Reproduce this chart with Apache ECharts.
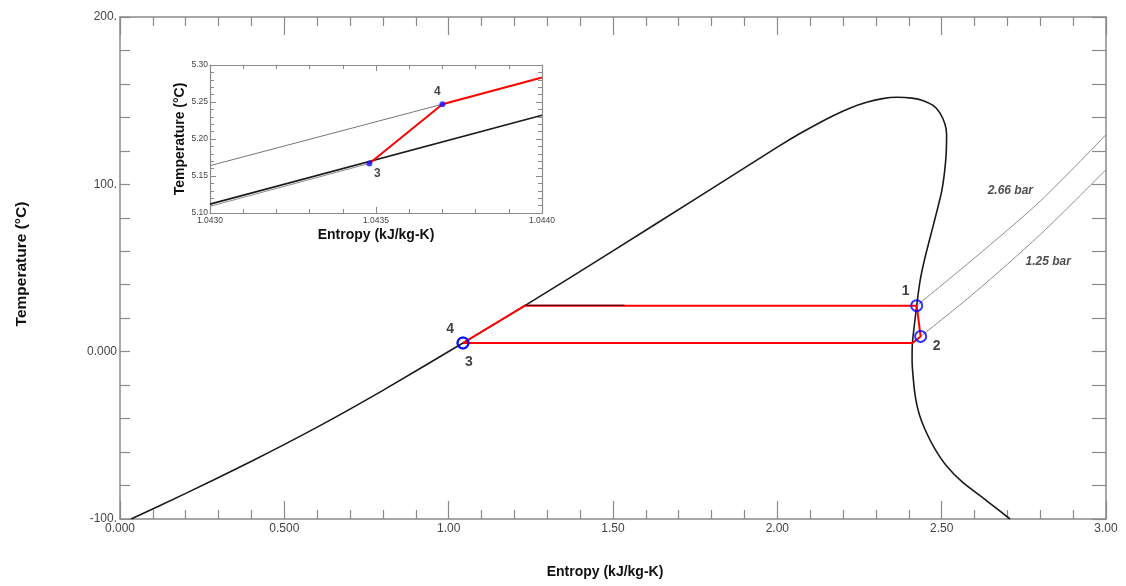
<!DOCTYPE html>
<html><head><meta charset="utf-8">
<script src="https://cdn.jsdelivr.net/npm/echarts@6/dist/echarts.min.js"></script>
<style>html,body{margin:0;padding:0;background:#fff}#c{width:1126px;height:586px}</style>
</head><body><div id="c"></div><script>
// ---- data ----
const xTickLabels = ['0.000','0.500','1.00','1.50','2.00','2.50','3.00'];
const yTickLabels = ['-100.','0.000','100.','200.'];
const insetXTickLabels = ['1.0430','1.0435','1.0440'];
const insetYTickLabels = ['5.10','5.15','5.20','5.25','5.30'];

const domeEntropy = [0.0335,0.2,0.4,0.6,0.8,1.0435,1.232,1.5,1.75,2.0,2.07,2.13,2.17,2.22,2.272,2.32,2.363,2.41,2.444,2.475,2.495,2.51,2.515,2.512,2.500,2.475,2.449,2.434,2.424,2.417,2.411,2.410,2.414,2.421,2.432,2.450,2.478,2.515,2.565,2.635,2.708];
const domeTemp    = [-100,-84.7,-65.5,-45.1,-23.1,5.17,27.5,60.2,91.2,122.2,130.5,137,141,145.5,149,151.2,152,151.5,150,147,142.6,136,129.7,113.7,95.8,75.9,56.0,42.0,27.5,16,5.17,-5,-17,-28.2,-37.5,-46.8,-57.6,-68.3,-78.3,-88.8,-100];

const isoHighEntropy = [2.424,2.6,2.8,3.0];
const isoHighTemp    = [27.5,56,90,129.7];
const isoLowEntropy  = [2.436,2.6,2.8,3.0];
const isoLowTemp     = [9.1,35.2,70,108.8];

const cycleEntropy = [1.0435,1.0437,1.232,2.424,2.436,2.411,1.0435];
const cycleTemp    = [5.17,5.247,27.5,27.5,9.1,5.17,5.17];
const darkSegEntropy = [1.232,1.535];
const darkSegTemp    = [27.75,27.75];

const stateNames   = ['1','2','3','4'];
const stateEntropy = [2.424,2.436,1.0435,1.0437];
const stateTemp    = [27.5,9.1,5.17,5.247];

const pressureNames   = ['2.66 bar','1.25 bar'];
const pressureEntropy = [2.709,2.824];
const pressureTemp    = [96.2,54.0];

const insetSatLiqEntropy = [1.0430,1.0440];
const insetSatLiqTemp    = [5.112,5.232];
const insetIsoHighEntropy = [1.0430,1.04370];
const insetIsoHighTemp    = [5.164,5.247];
const insetIsoLowEntropy  = [1.0430,1.04348];
const insetIsoLowTemp     = [5.109,5.167];
const insetCycleEntropy = [1.04348,1.04370,1.0440];
const insetCycleTemp    = [5.167,5.247,5.283];
const insetStateNames   = ['3','4'];
const insetStateEntropy = [1.04348,1.04370];
const insetStateTemp    = [5.167,5.247];

// ---- helpers ----
const zip = (a,b)=>a.map((v,i)=>[v,b[i]]);
const FONT = 'Liberation Sans, Arial, sans-serif';
const AX = '#8a8a8a';
const stateLabelOffsets = {'1':[-11,-15],'2':[16,10],'3':[6,19],'4':[-13,-14]};
const insetLabelOffsets = {'3':[8,10],'4':[-5,-13]};

function frameAxis(extra){
  return Object.assign({
    type:'value', splitLine:{show:false},
    axisLine:{show:true,onZero:false,lineStyle:{color:AX,width:1.5}},
    axisTick:{show:true,inside:true,length:18,lineStyle:{color:AX,width:1.2}},
    minorTick:{show:true,splitNumber:5,length:9,lineStyle:{color:AX,width:1.2}},
    axisLabel:{show:false}
  }, extra);
}
function insetAxis(extra){
  return Object.assign({
    type:'value', splitLine:{show:false},
    axisLine:{show:true,onZero:false,lineStyle:{color:AX,width:1.2}},
    axisTick:{show:true,inside:true,length:6,lineStyle:{color:AX,width:1}},
    minorTick:{show:true,splitNumber:5,length:4,lineStyle:{color:AX,width:1}},
    axisLabel:{show:false}
  }, extra);
}

const chart = echarts.init(document.getElementById('c'), null, {renderer:'canvas'});
chart.setOption({
  animation:false,
  backgroundColor:'#fff',
  textStyle:{fontFamily:FONT},
  grid:[
    {left:120,top:17,width:986,height:502},
    {left:210,top:65,width:332,height:148,show:true,backgroundColor:'#fff',borderWidth:0,z:5}
  ],
  xAxis:[
    frameAxis({gridIndex:0,position:'bottom',min:0,max:3,interval:0.5,
      name:'Entropy (kJ/kg-K)',nameLocation:'middle',nameGap:46,
      nameTextStyle:{fontSize:14,fontWeight:'bold',color:'#111',fontFamily:FONT,padding:[0,16,0,0]},
      axisLabel:{show:true,margin:4,fontSize:12,color:'#444',fontFamily:FONT,
        formatter:(v,i)=>xTickLabels[i]}}),
    frameAxis({gridIndex:0,position:'top',min:0,max:3,interval:0.5}),
    insetAxis({gridIndex:1,position:'bottom',min:1.0430,max:1.0440,interval:0.0005,z:6,
      name:'Entropy (kJ/kg-K)',nameLocation:'middle',nameGap:15,
      nameTextStyle:{fontSize:14,fontWeight:'bold',color:'#111',fontFamily:FONT},
      axisLabel:{show:true,margin:3,fontSize:8.5,color:'#444',fontFamily:FONT,
        formatter:(v,i)=>insetXTickLabels[i]}}),
    insetAxis({gridIndex:1,position:'top',min:1.0430,max:1.0440,interval:0.0005,z:6})
  ],
  yAxis:[
    frameAxis({gridIndex:0,position:'left',min:-100,max:200,interval:100,
      axisTick:{show:true,inside:true,length:10,lineStyle:{color:AX,width:1.2}},
      minorTick:{show:true,splitNumber:5,length:10,lineStyle:{color:AX,width:1.2}},
      name:'Temperature (°C)',nameLocation:'middle',nameGap:90,
      nameTextStyle:{fontSize:15.5,fontWeight:'bold',color:'#111',fontFamily:FONT,padding:[0,0,0,8]},
      axisLabel:{show:true,margin:3,fontSize:12,color:'#444',fontFamily:FONT,
        formatter:(v,i)=>yTickLabels[i]}}),
    frameAxis({gridIndex:0,position:'right',min:-100,max:200,interval:100,
      axisTick:{show:true,inside:true,length:14,lineStyle:{color:AX,width:1.2}},
      minorTick:{show:true,splitNumber:5,length:14,lineStyle:{color:AX,width:1.2}}}),
    insetAxis({gridIndex:1,position:'left',min:5.10,max:5.30,interval:0.05,z:6,
      name:'Temperature (°C)',nameLocation:'middle',nameGap:17,
      nameTextStyle:{fontSize:14,fontWeight:'bold',color:'#111',fontFamily:FONT},
      axisLabel:{show:true,margin:2,fontSize:8.5,color:'#444',fontFamily:FONT,
        formatter:(v,i)=>insetYTickLabels[i]}}),
    insetAxis({gridIndex:1,position:'right',min:5.10,max:5.30,interval:0.05,z:6})
  ],
  series:[
    {type:'line',xAxisIndex:0,yAxisIndex:0,data:zip(domeEntropy,domeTemp),showSymbol:false,symbol:'none',
      smooth:0.2,lineStyle:{color:'#1a1a1a',width:1.6},z:2},
    {type:'line',xAxisIndex:0,yAxisIndex:0,data:zip(isoHighEntropy,isoHighTemp),symbol:'none',smooth:0.3,
      lineStyle:{color:'#8c8c8c',width:1},z:2},
    {type:'line',xAxisIndex:0,yAxisIndex:0,data:zip(isoLowEntropy,isoLowTemp),symbol:'none',smooth:0.3,
      lineStyle:{color:'#8c8c8c',width:1},z:2},
    {type:'line',xAxisIndex:0,yAxisIndex:0,data:zip(cycleEntropy,cycleTemp),symbol:'none',
      lineStyle:{color:'#ff0000',width:2},z:3},
    {type:'line',xAxisIndex:0,yAxisIndex:0,data:zip(darkSegEntropy,darkSegTemp),symbol:'none',
      lineStyle:{color:'#3a0000',width:1},z:4},
    {type:'scatter',xAxisIndex:0,yAxisIndex:0,symbol:'circle',symbolSize:11,z:5,
      itemStyle:{color:'rgba(0,0,0,0)',borderColor:'#0000ff',borderWidth:2},
      data:stateNames.map((n,i)=>({name:n,value:[stateEntropy[i],stateTemp[i]],
        label:{show:true,formatter:n,position:'inside',offset:stateLabelOffsets[n],
          fontSize:14,fontWeight:'bold',color:'#111',fontFamily:FONT}}))},
    {type:'scatter',xAxisIndex:0,yAxisIndex:0,symbolSize:0,z:5,
      data:pressureNames.map((n,i)=>({name:n,value:[pressureEntropy[i],pressureTemp[i]],
        label:{show:true,formatter:n,position:'inside',fontSize:12,fontWeight:'bold',fontStyle:'italic',
          color:'#222',fontFamily:FONT}}))},
    // inset
    {type:'line',xAxisIndex:2,yAxisIndex:2,data:zip(insetIsoLowEntropy,insetIsoLowTemp),symbol:'none',
      lineStyle:{color:'#8c8c8c',width:1},z:7},
    {type:'line',xAxisIndex:2,yAxisIndex:2,data:zip(insetSatLiqEntropy,insetSatLiqTemp),symbol:'none',
      lineStyle:{color:'#1a1a1a',width:1.6},z:7},
    {type:'line',xAxisIndex:2,yAxisIndex:2,data:zip(insetIsoHighEntropy,insetIsoHighTemp),symbol:'none',
      lineStyle:{color:'#777',width:1},z:7},
    {type:'line',xAxisIndex:2,yAxisIndex:2,data:zip(insetCycleEntropy,insetCycleTemp),symbol:'none',
      lineStyle:{color:'#ff0000',width:2},z:8},
    {type:'scatter',xAxisIndex:2,yAxisIndex:2,symbol:'circle',symbolSize:6,z:9,
      itemStyle:{color:'#1010ff'},
      data:insetStateNames.map((n,i)=>({name:n,value:[insetStateEntropy[i],insetStateTemp[i]],
        label:{show:true,formatter:n,position:'inside',offset:insetLabelOffsets[n],
          fontSize:12,fontWeight:'bold',color:'#111',fontFamily:FONT}}))}
  ]
});
</script></body></html>
